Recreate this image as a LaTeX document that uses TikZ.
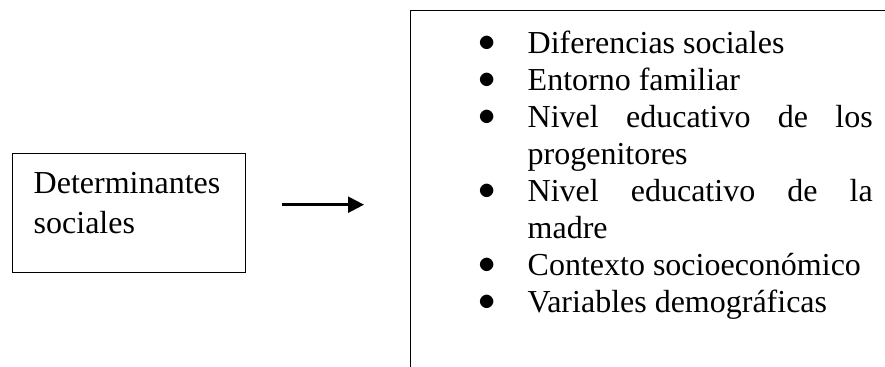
\documentclass[tikz,border=0pt]{standalone}
\usepackage{fontspec}
\setmainfont{Liberation Serif}
\usetikzlibrary{arrows.meta}

\newenvironment{vinetas}{\tolerance=10000 \hyphenpenalty=10000
  \begin{list}{\kern-2pt\raisebox{1pt}{$\bullet$}\hfill}{\setlength{\leftmargin}{22.5pt}%
    \setlength{\labelwidth}{22.5pt}\setlength{\labelsep}{0pt}%
    \setlength{\itemsep}{0pt}\setlength{\parsep}{0pt}%
    \setlength{\topsep}{0pt}\setlength{\partopsep}{0pt}}}{\end{list}}

\begin{document}
\begin{tikzpicture}[x=0.5pt, y=-0.5pt,
    caja/.style={draw, line width=0.7pt, anchor=north west, inner ysep=0pt,
                 font=\fontsize{16}{20}\selectfont}]
  \useasboundingbox (0,0) rectangle (885,367);
  \clip (0,0) rectangle (885,367);

  \node[caja, text width=95.5pt, inner xsep=10.5pt, align=left,
        text height=20pt, text depth=39.5pt] (det) at (12,153)
        {Determinantes sociales};
  \node[caja, text width=195pt, inner xsep=36pt, align=justify, text height=3pt,
        text depth=200pt, font=\fontsize{16}{18.5}\selectfont] (fact) at (410,10)
        {\begin{vinetas}
           \item Diferencias sociales
           \item Entorno familiar
           \item Nivel educativo de los progenitores
           \item Nivel educativo de la madre
           \item Contexto socioeconómico
           \item Variables demográficas
         \end{vinetas}};

  \draw[-{Triangle[length=8pt,width=8pt]}, line width=1.2pt,
        shorten <=18pt, shorten >=23pt]
    ([yshift=4.25pt]det.east) -- ([yshift=4.25pt]det.east -| fact.west);
\end{tikzpicture}
\end{document}
